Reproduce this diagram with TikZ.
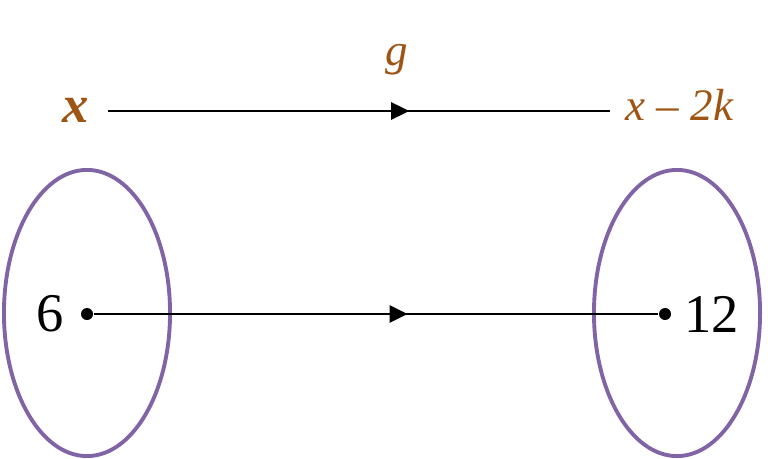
\documentclass[tikz,border=0pt]{standalone}
\usepackage{fontspec}
\setmainfont{Liberation Serif}
\usetikzlibrary{arrows.meta, positioning, decorations.markings}
\definecolor{mapbrown}{RGB}{158,84,18}
\definecolor{setpurple}{RGB}{128,100,166}

\begin{document}
\begin{tikzpicture}[
        x=0.01cm, y=-0.01cm,
        setoval/.style={draw=setpurple, line width=1.1pt},
        maparrow/.style={line width=0.75pt, postaction={decorate},
            decoration={markings, mark=at position #1 with {\arrow{Triangle[length=0.18cm, width=0.17cm]}}}},
        elemdot/.style={circle, fill, inner sep=0pt, minimum size=0.12cm},
        rulelabel/.style={text=mapbrown, inner sep=0pt, font=\fontsize{12.8}{16}\selectfont\itshape},
        numlabel/.style={inner sep=0pt, font=\fontsize{15.5}{18}\selectfont},
    ]
        \useasboundingbox (0,0) rectangle (768,458);

        % Domain and codomain
        \draw[setoval] (87,313) ellipse [x radius=0.83cm, y radius=1.43cm];
        \draw[setoval] (677,313) ellipse [x radius=0.83cm, y radius=1.43cm];

        % Rule of the map
        \node[rulelabel, font=\fontsize{15}{16}\selectfont\bfseries\itshape, anchor=base east] (xin) at (90,123) {x};
        \node[rulelabel, anchor=base west] (xout) at (625,121) {x \textup{–} 2k};
        \node[rulelabel, anchor=base] (gname) at (397,66) {g};
        \coordinate (rstart) at (108,111);
        \coordinate (rend) at (610,111);
        \draw[maparrow=0.6] (rstart) -- (rend);

        % Elements
        \node[elemdot] (d6) at (87,314) {};
        \node[elemdot] (d12) at (665,314) {};
        \node[numlabel, left=0.16cm of d6] (n6) {6};
        \node[numlabel, right=0.12cm of d12] (n12) {12};
        \draw[maparrow=0.556] (d6) -- (d12);
    \end{tikzpicture}
\end{document}
